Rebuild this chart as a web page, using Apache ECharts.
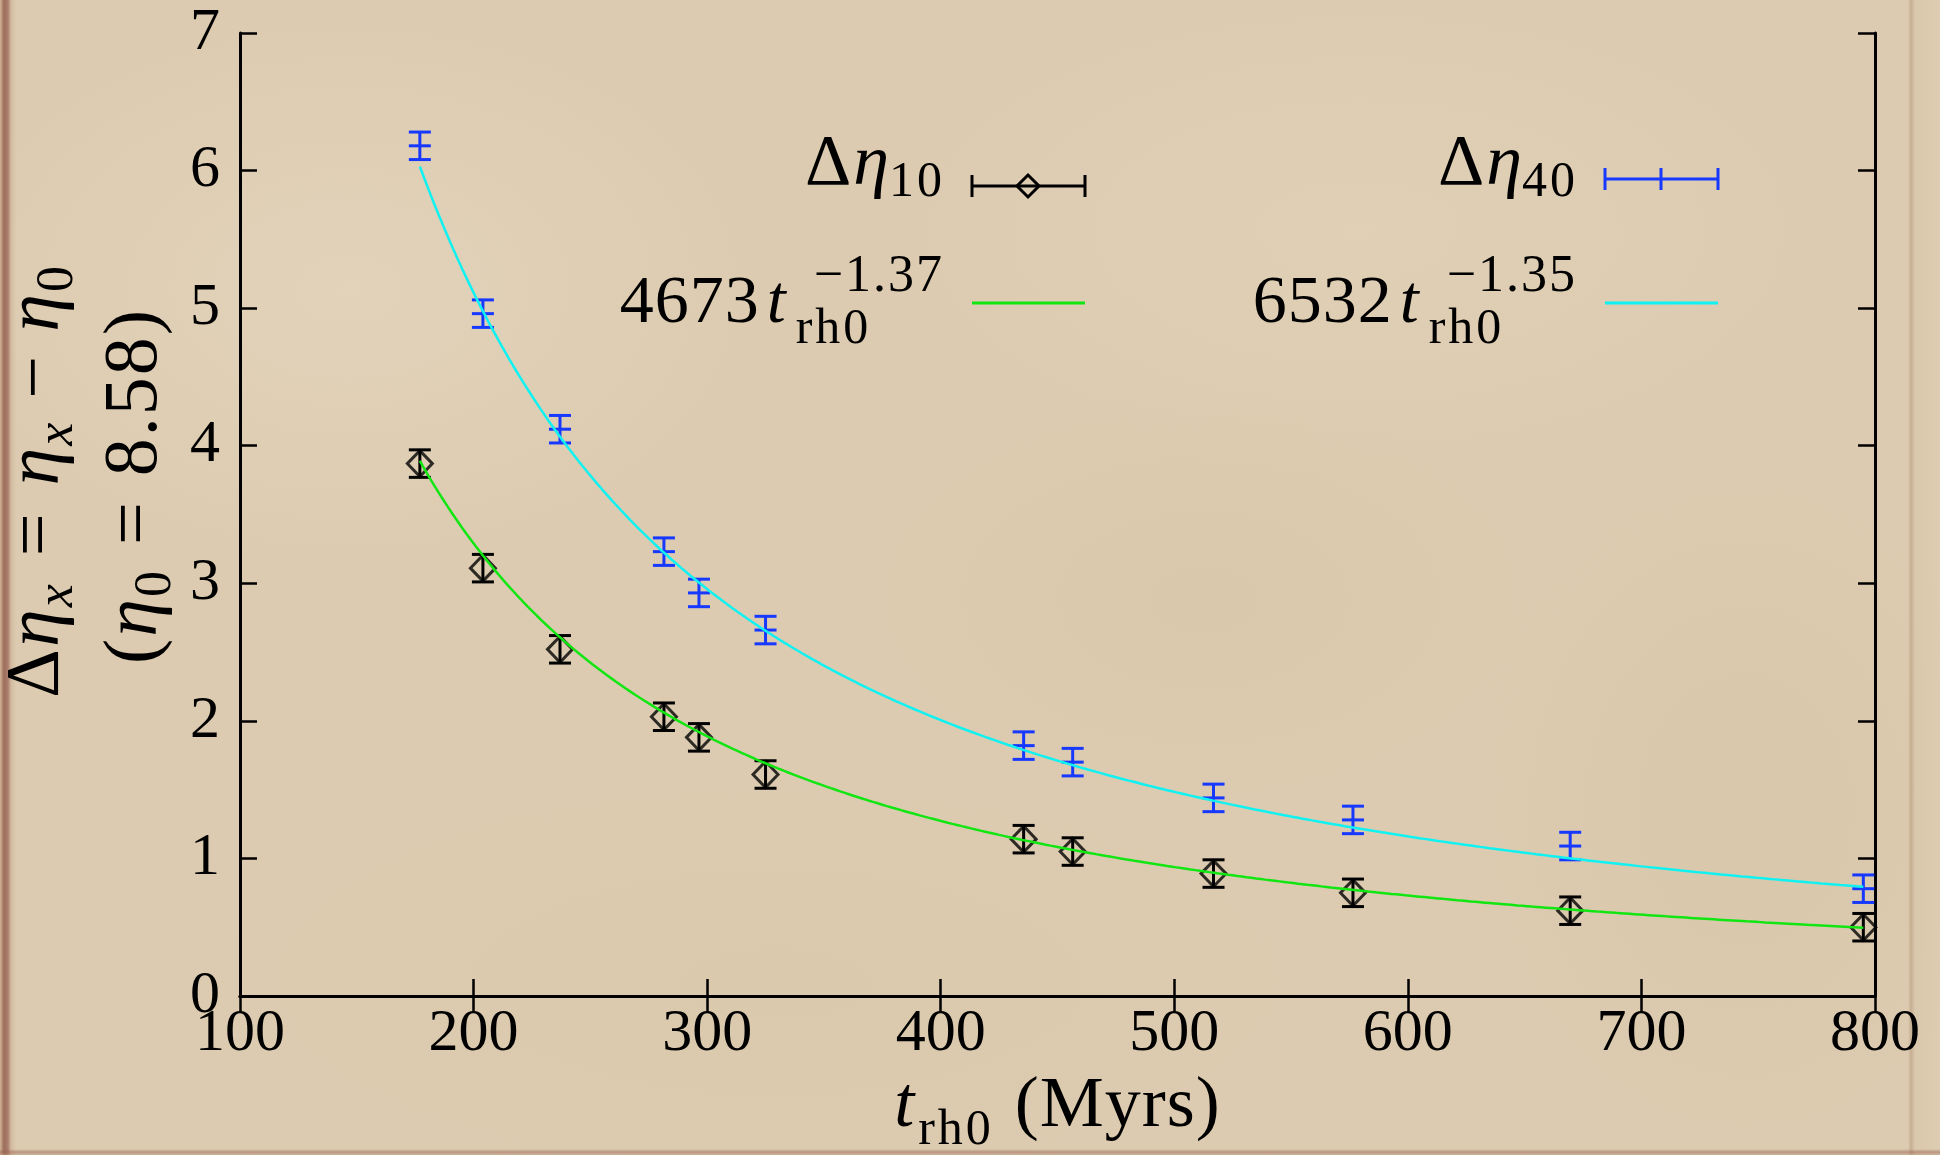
<!DOCTYPE html>
<html>
<head>
<meta charset="utf-8">
<script src="https://cdn.jsdelivr.net/npm/echarts@6/dist/echarts.min.js"></script>
<style>
  html, body { margin: 0; padding: 0; width: 1940px; height: 1155px; overflow: hidden; }
  body {
    position: relative;
    background-color: #dccbb0;
    background-image:
      radial-gradient(ellipse 600px 400px at 18% 25%, rgba(232,218,196,0.5), rgba(232,218,196,0) 70%),
      radial-gradient(ellipse 700px 350px at 70% 20%, rgba(228,213,188,0.45), rgba(228,213,188,0) 70%),
      radial-gradient(ellipse 500px 300px at 62% 52%, rgba(210,190,158,0.22), rgba(210,190,158,0) 70%),
      radial-gradient(ellipse 800px 300px at 40% 85%, rgba(216,198,168,0.4), rgba(216,198,168,0) 70%),
      radial-gradient(ellipse 400px 500px at 90% 70%, rgba(210,190,160,0.3), rgba(210,190,160,0) 70%);
  }
  .edge-left {
    position: absolute; left: 0; top: 0; width: 16px; height: 1155px;
    background: linear-gradient(to right, rgba(200,165,135,0.6) 0px, rgba(140,85,70,0.8) 4px, rgba(150,95,80,0.7) 8px, rgba(195,155,125,0.35) 11px, rgba(220,200,170,0) 16px);
  }
  .edge-right {
    position: absolute; left: 1908px; top: 0; width: 32px; height: 1155px;
    background: linear-gradient(to right, rgba(175,140,105,0.0) 0px, rgba(165,130,100,0.4) 3px, rgba(215,195,165,0.3) 7px, rgba(225,208,182,0.25) 32px);
  }
  .edge-bottom {
    position: absolute; left: 0; top: 1149px; width: 1940px; height: 6px;
    background: linear-gradient(to bottom, rgba(170,120,100,0) 0px, rgba(150,95,80,0.5) 3px, rgba(190,150,120,0.4) 6px);
  }
  #chart { position: absolute; left: 0; top: 0; width: 1940px; height: 1155px; }
</style>
</head>
<body>
<div class="edge-left"></div>
<div class="edge-right"></div>
<div class="edge-bottom"></div>
<div id="chart"></div>
<script>
// Initial half-mass relaxation time t_rh0 (Myrs) of each model
const tRh0 = [177, 204, 237, 281.5, 296.5, 325, 435.5, 456.5, 516.8, 576.5, 669.5, 795];
// Δη10 values with their uncertainties
const dEta10 = [3.87, 3.11, 2.52, 2.03, 1.88, 1.61, 1.14, 1.05, 0.89, 0.75, 0.62, 0.50];
const dEta10Err = [0.10, 0.10, 0.10, 0.10, 0.10, 0.10, 0.10, 0.10, 0.10, 0.10, 0.10, 0.10];
// Δη40 values with their uncertainties
const dEta40 = [6.18, 4.96, 4.12, 3.23, 2.93, 2.66, 1.82, 1.70, 1.44, 1.28, 1.09, 0.78];
const dEta40Err = [0.10, 0.10, 0.10, 0.10, 0.10, 0.10, 0.10, 0.10, 0.10, 0.10, 0.10, 0.10];
// Power-law fits A * t_rh0^p
const fit10 = { coef: 4673, power: -1.37 };
const fit40 = { coef: 6532, power: -1.35 };
// Axis ticks
const xTickValues = [100, 200, 300, 400, 500, 600, 700, 800];
const xTickLabels = ['100', '200', '300', '400', '500', '600', '700', '800'];
const yTickValues = [0, 1, 2, 3, 4, 5, 6, 7];
const yTickLabels = ['0', '1', '2', '3', '4', '5', '6', '7'];

const SERIF = '"Liberation Serif", "DejaVu Serif", serif';
const BLACK = '#000000';
const BLUE = '#1638ff';
const GREEN = '#12e612';
const CYAN = '#10f2f2';

// Sample a power-law curve across the measured t_rh0 range
function powerCurve(fit, t0, t1, step) {
  const pts = [];
  for (let t = t0; t < t1; t += step) pts.push([t, fit.coef * Math.pow(t, fit.power)]);
  pts.push([t1, fit.coef * Math.pow(t1, fit.power)]);
  return pts;
}

// Vertical error bar with caps; optional centre tick for the "+" marker
function errorBar(color, capHalf, centreTick) {
  return function (params, api) {
    const x = api.value(0), v = api.value(1), e = api.value(2);
    const hi = api.coord([x, v + e]);
    const lo = api.coord([x, v - e]);
    const mid = api.coord([x, v]);
    const st = { stroke: color, lineWidth: 3 };
    const children = [
      { type: 'line', shape: { x1: hi[0], y1: hi[1], x2: lo[0], y2: lo[1] }, style: st },
      { type: 'line', shape: { x1: hi[0] - capHalf, y1: hi[1], x2: hi[0] + capHalf, y2: hi[1] }, style: st },
      { type: 'line', shape: { x1: lo[0] - capHalf, y1: lo[1], x2: lo[0] + capHalf, y2: lo[1] }, style: st }
    ];
    if (centreTick) {
      children.push({ type: 'line', shape: { x1: mid[0] - capHalf, y1: mid[1], x2: mid[0] + capHalf, y2: mid[1] }, style: st });
    }
    return { type: 'group', children: children };
  };
}

// Lay out a run of text pieces (math-like: italics, sub/superscripts) on a baseline.
// Each piece may carry extra letter spacing, a gap before it, a baseline shift,
// or be stacked over the previous piece (sub + superscript pairs, with an indent).
const measure = document.createElement('canvas').getContext('2d');
function fontOf(p) { return (p.italic ? 'italic ' : '') + p.size + 'px ' + SERIF; }
function mathRun(pieces, anchorX, baseY, align) {
  let cursor = 0, prevStart = 0;
  const glyphs = [];
  pieces.forEach(function (p) {
    measure.font = fontOf(p);
    const start = p.stack ? prevStart + (p.indent || 0) : cursor + (p.gap || 0);
    let x = start;
    const chars = Array.from(p.text);
    chars.forEach(function (ch, k) {
      glyphs.push({ p: p, ch: ch, x: x });
      x += measure.measureText(ch).width + (k < chars.length - 1 ? (p.spacing || 0) : 0);
    });
    prevStart = start;
    cursor = p.stack ? Math.max(cursor, x) : x;
  });
  const total = cursor;
  const x0 = align === 'right' ? anchorX - total : align === 'center' ? anchorX - total / 2 : anchorX;
  return glyphs.map(function (g) {
    const p = g.p;
    return {
      type: 'text',
      x: x0 + g.x,
      y: baseY + (p.dy || 0) - 0.34 * p.size,
      silent: true,
      style: { text: g.ch, font: fontOf(p), fill: BLACK, align: 'left', verticalAlign: 'middle' }
    };
  });
}

const BIG = 68, SUB = 50, SUP = 52, SP = 3;
const graphics = [];

// Legend, first column
graphics.push.apply(graphics, mathRun([
  { text: 'Δ', size: 72 },
  { text: 'η', size: 72, italic: true, gap: 2 },
  { text: '10', size: SUB, dy: 10, spacing: SP }
], 942, 190, 'right'));
graphics.push.apply(graphics, mathRun([
  { text: '4673', size: BIG, spacing: 1 },
  { text: 't', size: BIG, italic: true, gap: 8 },
  { text: 'rh0', size: SUB, dy: 20, gap: 10, spacing: SP },
  { text: '−1.37', size: SUP, dy: -32, stack: true, indent: 18, spacing: 2 }
], 942, 327, 'right'));
// Legend, second column
graphics.push.apply(graphics, mathRun([
  { text: 'Δ', size: 72 },
  { text: 'η', size: 72, italic: true, gap: 2 },
  { text: '40', size: SUB, dy: 10, spacing: SP }
], 1575, 190, 'right'));
graphics.push.apply(graphics, mathRun([
  { text: '6532', size: BIG, spacing: 1 },
  { text: 't', size: BIG, italic: true, gap: 8 },
  { text: 'rh0', size: SUB, dy: 20, gap: 10, spacing: SP },
  { text: '−1.35', size: SUP, dy: -32, stack: true, indent: 18, spacing: 2 }
], 1575, 327, 'right'));

// Legend keys
function keyLine(x1, x2, y, color, caps) {
  const st = { stroke: color, lineWidth: 3 };
  const out = [{ type: 'line', silent: true, shape: { x1: x1, y1: y, x2: x2, y2: y }, style: st }];
  if (caps) {
    out.push({ type: 'line', silent: true, shape: { x1: x1, y1: y - 11, x2: x1, y2: y + 11 }, style: st });
    out.push({ type: 'line', silent: true, shape: { x1: x2, y1: y - 11, x2: x2, y2: y + 11 }, style: st });
  }
  return out;
}
graphics.push.apply(graphics, keyLine(972, 1085, 186, BLACK, true));
graphics.push({
  type: 'polygon', silent: true,
  shape: { points: [[1028, 175], [1039, 186], [1028, 197], [1017, 186]] },
  style: { fill: 'none', stroke: BLACK, lineWidth: 3 }
});
graphics.push.apply(graphics, keyLine(1605, 1718, 179, BLUE, true));
graphics.push({ type: 'line', silent: true, shape: { x1: 1661, y1: 168, x2: 1661, y2: 190 }, style: { stroke: BLUE, lineWidth: 3 } });
graphics.push.apply(graphics, keyLine(972, 1085, 303, GREEN, false));
graphics.push.apply(graphics, keyLine(1605, 1718, 303, CYAN, false));

// Axis titles
graphics.push.apply(graphics, mathRun([
  { text: 't', size: 72, italic: true },
  { text: 'rh0', size: SUB, dy: 16, gap: 4, spacing: SP },
  { text: '(Myrs)', size: 72, gap: 24, spacing: 1 }
], 1057, 1132, 'center'));

graphics.push({
  type: 'group', x: 64, y: 482, rotation: Math.PI / 2,
  children: mathRun([
    { text: 'Δ', size: 76 },
    { text: 'η', size: 76, italic: true, gap: 2 },
    { text: 'x', size: 52, italic: true, dy: 12, gap: 2 },
    { text: '=', size: 76, gap: 28 },
    { text: 'η', size: 76, italic: true, gap: 28 },
    { text: 'x', size: 52, italic: true, dy: 12, gap: 2 },
    { text: '−', size: 76, gap: 24 },
    { text: 'η', size: 76, italic: true, gap: 24 },
    { text: '0', size: 52, dy: 12, gap: 2 }
  ], 0, 0, 'center')
});
graphics.push({
  type: 'group', x: 162, y: 487, rotation: Math.PI / 2,
  children: mathRun([
    { text: '(', size: 76 },
    { text: 'η', size: 76, italic: true, gap: 2 },
    { text: '0', size: 52, dy: 12, gap: 2 },
    { text: '=', size: 76, gap: 26 },
    { text: '8.58', size: 76, gap: 26, spacing: 2 },
    { text: ')', size: 76, gap: 2 }
  ], 0, 0, 'center')
});

const axisLine = { show: true, lineStyle: { color: BLACK, width: 3 } };
const tickStyle = { show: true, inside: true, length: 17, lineStyle: { color: BLACK, width: 2.5 } };

const chart = echarts.init(document.getElementById('chart'), null, { renderer: 'canvas' });
chart.setOption({
  backgroundColor: 'transparent',
  animation: false,
  grid: { left: 240, right: 65, top: 33, bottom: 159, containLabel: false },
  xAxis: [
    {
      type: 'value', min: 100, max: 800, interval: 100, position: 'bottom',
      axisLine: axisLine, axisTick: tickStyle, splitLine: { show: false },
      axisLabel: {
        color: BLACK, fontFamily: SERIF, fontSize: 60, margin: 8,
        formatter: function (v) { const i = xTickValues.indexOf(v); return i >= 0 ? xTickLabels[i] : ''; }
      }
    },
    {
      type: 'value', min: 100, max: 800, interval: 100, position: 'top',
      axisLine: axisLine, axisTick: tickStyle, splitLine: { show: false }, axisLabel: { show: false }
    }
  ],
  yAxis: [
    {
      type: 'value', min: 0, max: 7, interval: 1, position: 'left',
      axisLine: axisLine, axisTick: tickStyle, splitLine: { show: false },
      axisLabel: {
        color: BLACK, fontFamily: SERIF, fontSize: 60, margin: 20,
        formatter: function (v) { const i = yTickValues.indexOf(v); return i >= 0 ? yTickLabels[i] : ''; }
      }
    },
    {
      type: 'value', min: 0, max: 7, interval: 1, position: 'right',
      axisLine: axisLine, axisTick: tickStyle, splitLine: { show: false }, axisLabel: { show: false }
    }
  ],
  series: [
    {
      name: 'Δη10 errors', type: 'custom', xAxisIndex: 0, yAxisIndex: 0, z: 3,
      renderItem: errorBar(BLACK, 11, false),
      data: tRh0.map(function (t, i) { return [t, dEta10[i], dEta10Err[i]]; })
    },
    {
      name: 'Δη10', type: 'scatter', xAxisIndex: 0, yAxisIndex: 0, z: 3,
      symbol: 'diamond', symbolSize: [25, 26],
      itemStyle: { color: 'rgba(0,0,0,0)', borderColor: BLACK, borderWidth: 3 },
      data: tRh0.map(function (t, i) { return [t, dEta10[i]]; })
    },
    {
      name: 'Δη40 errors', type: 'custom', xAxisIndex: 0, yAxisIndex: 0, z: 3,
      renderItem: errorBar(BLUE, 11, true),
      data: tRh0.map(function (t, i) { return [t, dEta40[i], dEta40Err[i]]; })
    },
    {
      name: 'fit 10', type: 'line', xAxisIndex: 0, yAxisIndex: 0, z: 4,
      showSymbol: false, smooth: false,
      lineStyle: { color: GREEN, width: 2.5 },
      data: powerCurve(fit10, tRh0[0], tRh0[tRh0.length - 1], 2)
    },
    {
      name: 'fit 40', type: 'line', xAxisIndex: 0, yAxisIndex: 0, z: 4,
      showSymbol: false, smooth: false,
      lineStyle: { color: CYAN, width: 2.5 },
      data: powerCurve(fit40, tRh0[0], tRh0[tRh0.length - 1], 2)
    }
  ],
  graphic: { elements: graphics }
});
</script>
</body>
</html>
